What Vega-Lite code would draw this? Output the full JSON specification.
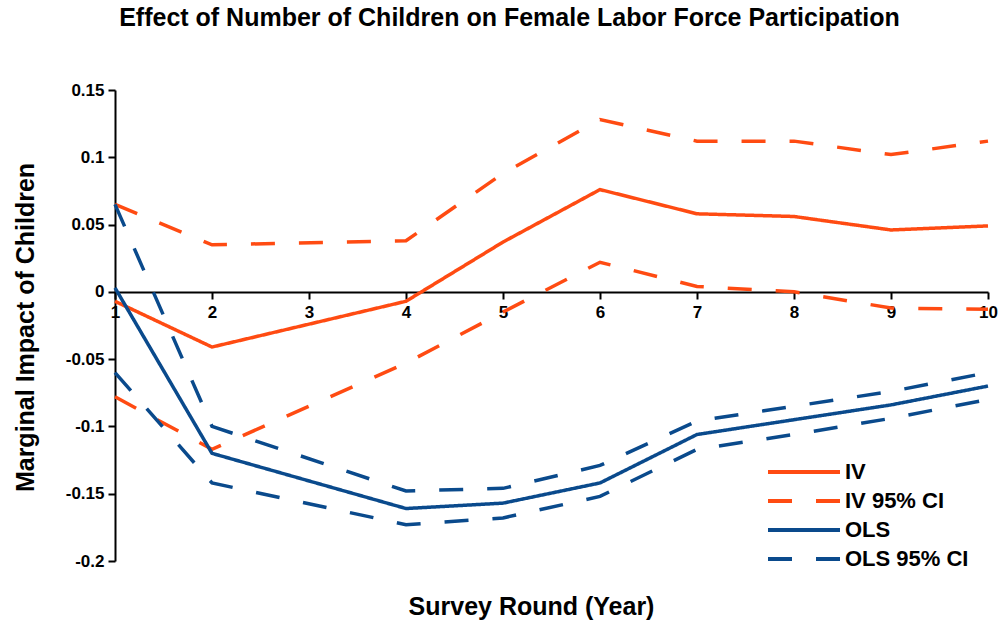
{
  "$schema": "https://vega.github.io/schema/vega-lite/v6.json",
  "width": 873,
  "height": 471,
  "autosize": "none",
  "padding": {"left": 115, "top": 90, "right": 15, "bottom": 65},
  "background": "white",
  "title": {
    "text": "Effect of Number of Children on Female Labor Force Participation",
    "font": "Liberation Sans",
    "fontSize": 25,
    "fontWeight": "bold",
    "color": "black",
    "anchor": "middle",
    "frame": "group",
    "dx": -42,
    "offset": 50
  },
  "config": {
    "view": {"stroke": null},
    "font": "Liberation Sans"
  },
  "data": {
    "values": [
      {"round": 1, "value": -0.007, "series": "IV", "line": "IV"},
      {"round": 2, "value": -0.041, "series": "IV", "line": "IV"},
      {"round": 4, "value": -0.007, "series": "IV", "line": "IV"},
      {"round": 5, "value": 0.037, "series": "IV", "line": "IV"},
      {"round": 6, "value": 0.076, "series": "IV", "line": "IV"},
      {"round": 7, "value": 0.058, "series": "IV", "line": "IV"},
      {"round": 8, "value": 0.056, "series": "IV", "line": "IV"},
      {"round": 9, "value": 0.046, "series": "IV", "line": "IV"},
      {"round": 10, "value": 0.049, "series": "IV", "line": "IV"},

      {"round": 1, "value": 0.065, "series": "IV 95% CI", "line": "IV upper"},
      {"round": 2, "value": 0.035, "series": "IV 95% CI", "line": "IV upper"},
      {"round": 4, "value": 0.038, "series": "IV 95% CI", "line": "IV upper"},
      {"round": 5, "value": 0.088, "series": "IV 95% CI", "line": "IV upper"},
      {"round": 6, "value": 0.128, "series": "IV 95% CI", "line": "IV upper"},
      {"round": 7, "value": 0.112, "series": "IV 95% CI", "line": "IV upper"},
      {"round": 8, "value": 0.112, "series": "IV 95% CI", "line": "IV upper"},
      {"round": 9, "value": 0.102, "series": "IV 95% CI", "line": "IV upper"},
      {"round": 10, "value": 0.112, "series": "IV 95% CI", "line": "IV upper"},

      {"round": 1, "value": -0.078, "series": "IV 95% CI", "line": "IV lower"},
      {"round": 2, "value": -0.117, "series": "IV 95% CI", "line": "IV lower"},
      {"round": 4, "value": -0.053, "series": "IV 95% CI", "line": "IV lower"},
      {"round": 5, "value": -0.015, "series": "IV 95% CI", "line": "IV lower"},
      {"round": 6, "value": 0.022, "series": "IV 95% CI", "line": "IV lower"},
      {"round": 7, "value": 0.004, "series": "IV 95% CI", "line": "IV lower"},
      {"round": 8, "value": 0.0, "series": "IV 95% CI", "line": "IV lower"},
      {"round": 9, "value": -0.012, "series": "IV 95% CI", "line": "IV lower"},
      {"round": 10, "value": -0.013, "series": "IV 95% CI", "line": "IV lower"},

      {"round": 1, "value": 0.003, "series": "OLS", "line": "OLS"},
      {"round": 2, "value": -0.120, "series": "OLS", "line": "OLS"},
      {"round": 4, "value": -0.161, "series": "OLS", "line": "OLS"},
      {"round": 5, "value": -0.157, "series": "OLS", "line": "OLS"},
      {"round": 6, "value": -0.142, "series": "OLS", "line": "OLS"},
      {"round": 7, "value": -0.106, "series": "OLS", "line": "OLS"},
      {"round": 8, "value": -0.095, "series": "OLS", "line": "OLS"},
      {"round": 9, "value": -0.084, "series": "OLS", "line": "OLS"},
      {"round": 10, "value": -0.070, "series": "OLS", "line": "OLS"},

      {"round": 1, "value": 0.065, "series": "OLS 95% CI", "line": "OLS upper"},
      {"round": 2, "value": -0.100, "series": "OLS 95% CI", "line": "OLS upper"},
      {"round": 4, "value": -0.148, "series": "OLS 95% CI", "line": "OLS upper"},
      {"round": 5, "value": -0.146, "series": "OLS 95% CI", "line": "OLS upper"},
      {"round": 6, "value": -0.129, "series": "OLS 95% CI", "line": "OLS upper"},
      {"round": 7, "value": -0.096, "series": "OLS 95% CI", "line": "OLS upper"},
      {"round": 8, "value": -0.085, "series": "OLS 95% CI", "line": "OLS upper"},
      {"round": 9, "value": -0.074, "series": "OLS 95% CI", "line": "OLS upper"},
      {"round": 10, "value": -0.060, "series": "OLS 95% CI", "line": "OLS upper"},

      {"round": 1, "value": -0.060, "series": "OLS 95% CI", "line": "OLS lower"},
      {"round": 2, "value": -0.142, "series": "OLS 95% CI", "line": "OLS lower"},
      {"round": 4, "value": -0.173, "series": "OLS 95% CI", "line": "OLS lower"},
      {"round": 5, "value": -0.168, "series": "OLS 95% CI", "line": "OLS lower"},
      {"round": 6, "value": -0.152, "series": "OLS 95% CI", "line": "OLS lower"},
      {"round": 7, "value": -0.117, "series": "OLS 95% CI", "line": "OLS lower"},
      {"round": 8, "value": -0.106, "series": "OLS 95% CI", "line": "OLS lower"},
      {"round": 9, "value": -0.094, "series": "OLS 95% CI", "line": "OLS lower"},
      {"round": 10, "value": -0.080, "series": "OLS 95% CI", "line": "OLS lower"}
    ]
  },
  "mark": {"type": "line", "strokeWidth": 3.5, "strokeCap": "butt", "strokeJoin": "miter", "clip": false},
  "encoding": {
    "x": {
      "field": "round",
      "type": "quantitative",
      "scale": {"domain": [1, 10], "nice": false, "zero": false},
      "axis": {
        "values": [1, 2, 3, 4, 5, 6, 7, 8, 9, 10],
        "offset": -269,
        "grid": false,
        "domainColor": "black",
        "domainWidth": 2,
        "tickColor": "black",
        "tickWidth": 2,
        "tickSize": 7,
        "labelFont": "Liberation Sans",
        "labelFontWeight": "bold",
        "labelFontSize": 17,
        "labelColor": "black",
        "labelPadding": 5,
        "labelFlush": false,
        "labelOverlap": false,
        "title": "Survey Round (Year)",
        "titleFont": "Liberation Sans",
        "titleFontSize": 25,
        "titleFontWeight": "bold",
        "titleColor": "black",
        "titleX": 416,
        "titleY": 314,
        "titleBaseline": "middle",
        "titleAlign": "center"
      }
    },
    "y": {
      "field": "value",
      "type": "quantitative",
      "scale": {"domain": [-0.2, 0.15], "nice": false, "zero": false},
      "axis": {
        "values": [-0.2, -0.15, -0.1, -0.05, 0, 0.05, 0.1, 0.15],
        "labelExpr": "'' + datum.value",
        "grid": false,
        "domainColor": "black",
        "domainWidth": 2,
        "tickColor": "black",
        "tickWidth": 2,
        "tickSize": 7,
        "labelFont": "Liberation Sans",
        "labelFontWeight": "bold",
        "labelFontSize": 17,
        "labelColor": "black",
        "labelPadding": 4,
        "labelFlush": false,
        "labelOverlap": false,
        "title": "Marginal Impact of Children",
        "titleFont": "Liberation Sans",
        "titleFontSize": 25,
        "titleFontWeight": "bold",
        "titleColor": "black",
        "titleX": -90,
        "titleY": 237,
        "titleBaseline": "middle",
        "titleAlign": "center",
        "titleAngle": -90
      }
    },
    "detail": {"field": "line", "type": "nominal"},
    "color": {
      "field": "series",
      "type": "nominal",
      "scale": {
        "domain": ["IV", "IV 95% CI", "OLS", "OLS 95% CI"],
        "range": ["#FF4B12", "#FF4B12", "#0A4A8C", "#0A4A8C"]
      },
      "legend": {
        "title": null,
        "orient": "none",
        "legendX": 675,
        "legendY": 368,
        "symbolType": "M-3,0H3",
        "symbolSize": 576,
        "symbolStrokeWidth": 4,
        "labelFont": "Liberation Sans",
        "labelFontWeight": "bold",
        "labelFontSize": 22,
        "labelColor": "black",
        "labelOffset": 27,
        "rowPadding": 4
      }
    },
    "strokeDash": {
      "field": "series",
      "type": "nominal",
      "scale": {
        "domain": ["IV", "IV 95% CI", "OLS", "OLS 95% CI"],
        "range": [[1, 0], [24, 24], [1, 0], [24, 24]]
      },
      "legend": {
        "title": null,
        "orient": "none",
        "legendX": 675,
        "legendY": 368,
        "symbolType": "M-3,0H3",
        "symbolSize": 576,
        "symbolStrokeWidth": 4,
        "labelFont": "Liberation Sans",
        "labelFontWeight": "bold",
        "labelFontSize": 22,
        "labelColor": "black",
        "labelOffset": 27,
        "rowPadding": 4
      }
    }
  }
}
